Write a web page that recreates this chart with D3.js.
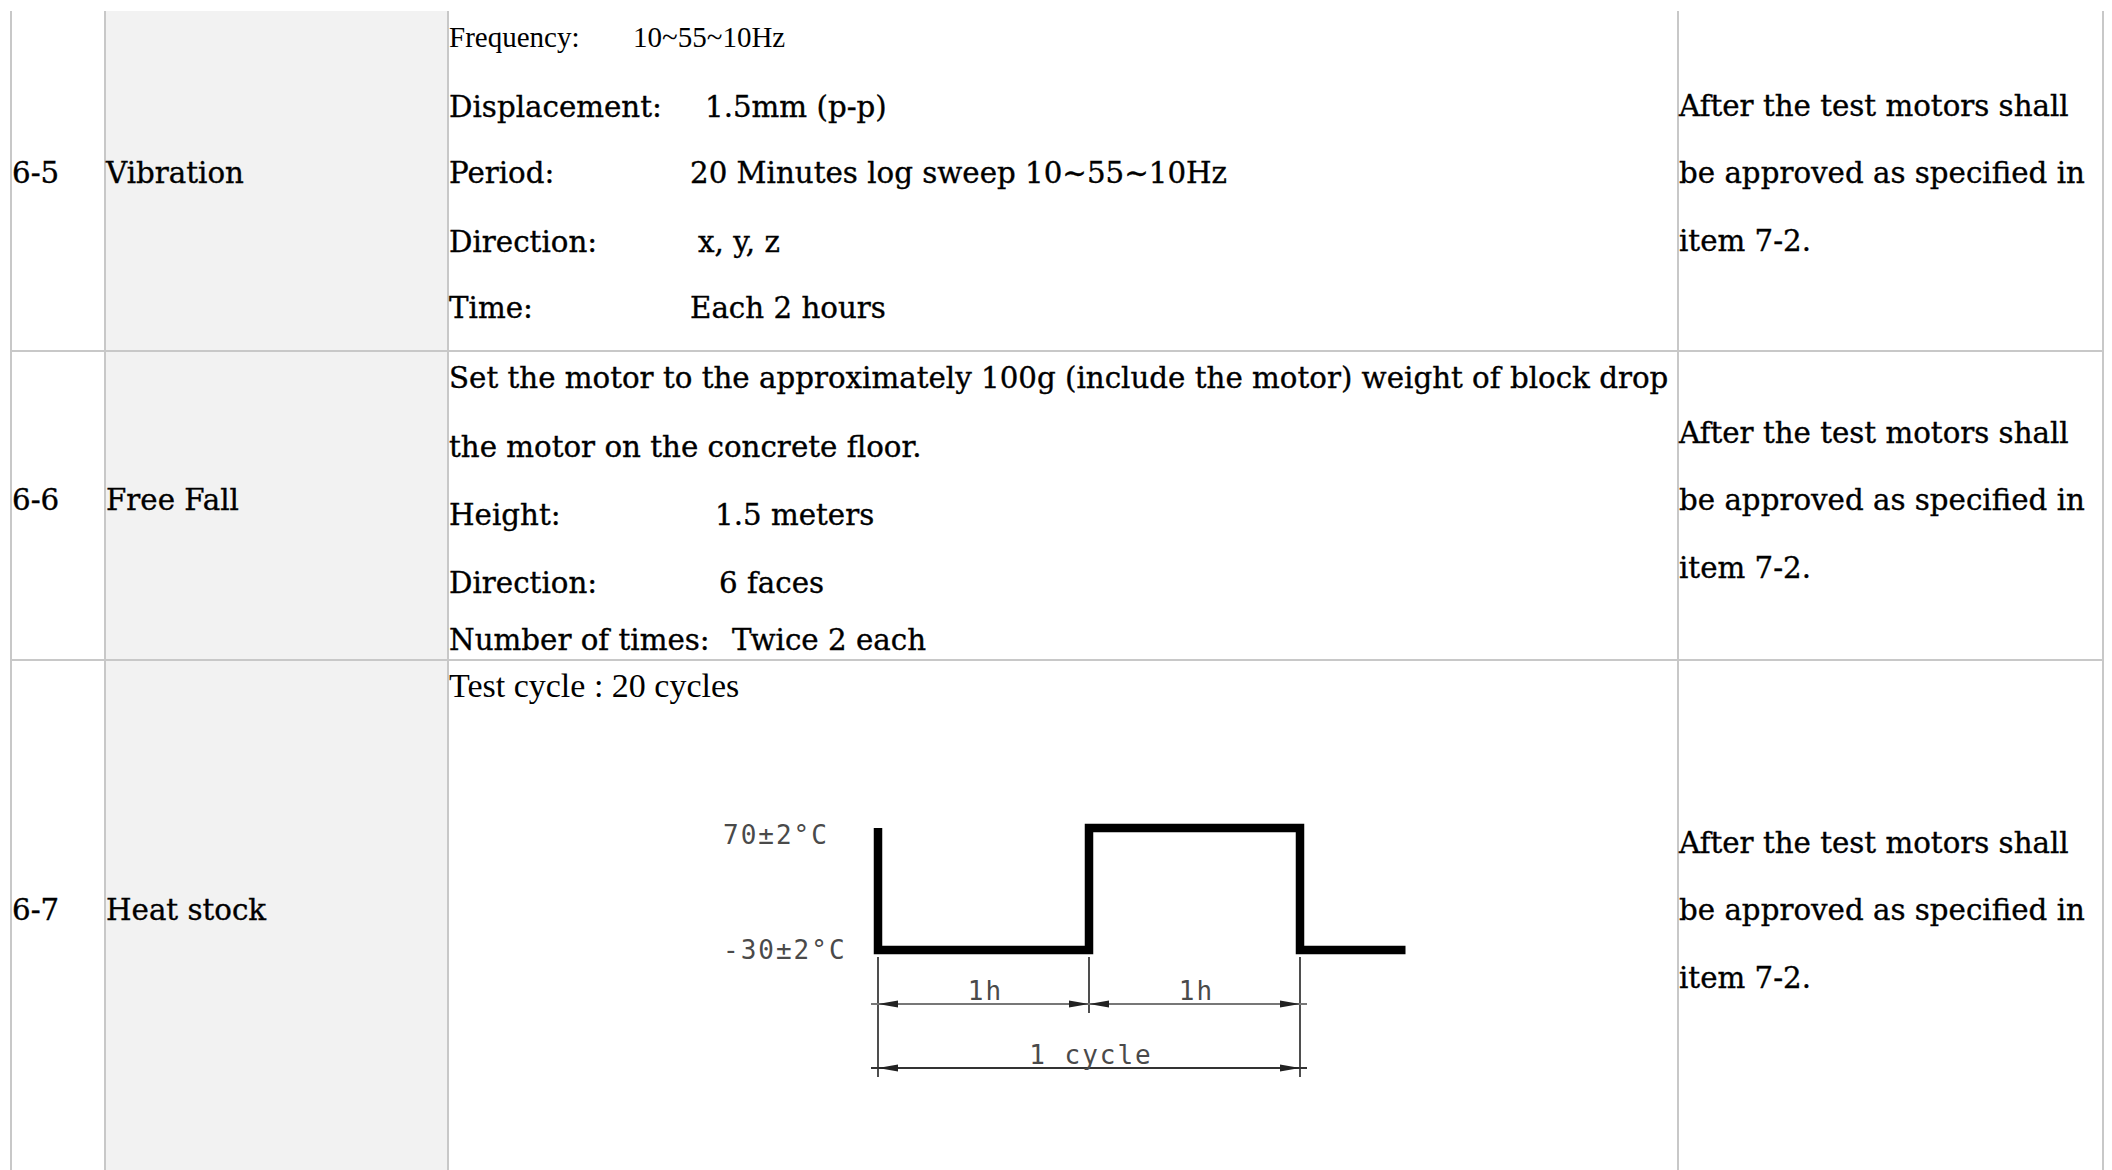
<!DOCTYPE html>
<html>
<head>
<meta charset="utf-8">
<script src="https://cdn.jsdelivr.net/npm/d3@7"></script>
<style>
  body { margin: 0; background: #fff; }
  svg { display: block; }
</style>
</head>
<body>
<script>
var W = 2112, H = 1170;

// table content
var itemNos = ["6-5", "6-6", "6-7"];
var itemNames = ["Vibration", "Free Fall", "Heat stock"];
var condLabels = [
  ["Frequency:", "Displacement:", "Period:", "Direction:", "Time:"],
  ["Set the motor to the approximately 100g (include the motor) weight of block drop",
   "the motor on the concrete floor.", "Height:", "Direction:", "Number of times:"],
  ["Test cycle : 20 cycles"]
];
var condValues = [
  ["10~55~10Hz", "1.5mm (p-p)", "20 Minutes log sweep 10~55~10Hz", "x, y, z", "Each 2 hours"],
  ["", "", "1.5 meters", "6 faces", "Twice 2 each"],
  [""]
];
var verdictLines = ["After the test motors shall", "be approved as specified in", "item 7-2."];

// heat shock cycle
var cycleHours = [0, 0, 1, 1, 2, 2, 2.5];
var cycleTemps = [70, -30, -30, 70, 70, -30, -30];
var levelTemps = [70, -30];
var levelLabels = ["70±2°C", "-30±2°C"];
var spanStart = [0, 1, 0];
var spanEnd = [1, 2, 2];
var spanLabels = ["1h", "1h", "1 cycle"];

// layout
var colX = [11, 105, 448, 1678, 2103];
var rowY = [11, 351, 660, H + 5];
var lineColor = "#c8c8c8";
var serif = "'DejaVu Serif', serif";
var times = "'Liberation Serif', 'Times New Roman', serif";
var mono = "'DejaVu Sans Mono', monospace";
var baseSize = 29.3;
var labelBase = [183, 510, 920];
var condBase = [[47, 117, 183, 252, 318], [388, 457, 525, 593, 650], [697]];
var valueX = [[633, 705, 690, 698, 690], [0, 0, 715, 719, 732], [0]];
var verdictPitch = 67.5;

var svg = d3.select("body").append("svg")
  .attr("width", W)
  .attr("height", H);

// shaded name column
svg.append("rect")
  .attr("x", colX[1]).attr("y", rowY[0])
  .attr("width", colX[2] - colX[1]).attr("height", H - rowY[0])
  .attr("fill", "#f2f2f2");

// grid
svg.selectAll("line.col")
  .data(colX)
  .enter().append("line")
  .attr("class", "col")
  .attr("x1", function(d) { return d; })
  .attr("x2", function(d) { return d; })
  .attr("y1", rowY[0])
  .attr("y2", H)
  .attr("stroke", lineColor)
  .attr("stroke-width", 2);

svg.selectAll("line.row")
  .data(rowY.slice(1, 3))
  .enter().append("line")
  .attr("class", "row")
  .attr("x1", colX[0])
  .attr("x2", colX[4])
  .attr("y1", function(d) { return d; })
  .attr("y2", function(d) { return d; })
  .attr("stroke", lineColor)
  .attr("stroke-width", 2);

// text is a touch heavier in the original print
var txt = svg.append("g")
  .attr("fill", "#000")
  .attr("stroke", "#000")
  .attr("stroke-width", 0.35);

itemNos.forEach(function(no, i) {
  txt.append("text").attr("x", colX[0] + 1).attr("y", labelBase[i])
    .attr("font-family", serif).attr("font-size", baseSize).text(no);
  txt.append("text").attr("x", colX[1] + 1).attr("y", labelBase[i])
    .attr("font-family", serif).attr("font-size", baseSize).text(itemNames[i]);

  condLabels[i].forEach(function(lab, j) {
    var plain = (i === 0 && j === 0) || i === 2;
    var fam = plain ? times : serif;
    var size = plain ? (i === 2 ? 34 : 29) : baseSize;
    var t = txt.append("text").attr("x", colX[2] + 1).attr("y", condBase[i][j])
      .attr("font-family", fam).attr("font-size", size).text(lab);
    if (plain) t.attr("stroke", "none");
    if (condValues[i][j]) {
      var v = txt.append("text").attr("x", valueX[i][j]).attr("y", condBase[i][j])
        .attr("font-family", fam).attr("font-size", size).text(condValues[i][j]);
      if (plain) v.attr("stroke", "none");
    }
  });

  verdictLines.forEach(function(v, k) {
    txt.append("text").attr("x", colX[3] + 1)
      .attr("y", labelBase[i] + (k - 1) * verdictPitch)
      .attr("font-family", serif).attr("font-size", baseSize).text(v);
  });
});

// ---------------- heat shock diagram ----------------
var x = d3.scaleLinear().domain([0, 1]).range([878, 1089]);
var y = d3.scaleLinear().domain([-30, 70]).range([950, 828]);

var wave = cycleHours.map(function(h, i) { return [h, cycleTemps[i]]; });
var g = svg.append("g");

g.append("path")
  .attr("d", d3.line().x(function(d) { return x(d[0]); }).y(function(d) { return y(d[1]); })(wave))
  .attr("fill", "none")
  .attr("stroke", "#000")
  .attr("stroke-width", 8.5)
  .attr("stroke-linejoin", "miter");

var labelDy = [16, 9];
g.selectAll("text.level")
  .data(levelTemps)
  .enter().append("text")
  .attr("class", "level")
  .attr("x", 723)
  .attr("y", function(d, i) { return y(d) + labelDy[i]; })
  .attr("font-family", mono)
  .attr("font-size", 26)
  .attr("letter-spacing", 2)
  .attr("fill", "#4a4a4a")
  .text(function(d, i) { return levelLabels[i]; });

// dimension lines
var lowY = y(-30);
var dimY = [1004, 1004, 1068];
var spans = spanLabels.map(function(l, i) {
  return { a: spanStart[i], b: spanEnd[i], label: l, y: dimY[i] };
});

// extension lines
var ext = [{ h: 0, to: 1077 }, { h: 1, to: 1013 }, { h: 2, to: 1077 }];
g.selectAll("line.ext")
  .data(ext)
  .enter().append("line")
  .attr("class", "ext")
  .attr("x1", function(d) { return x(d.h); })
  .attr("x2", function(d) { return x(d.h); })
  .attr("y1", lowY + 7)
  .attr("y2", function(d) { return d.to; })
  .attr("stroke", "#222")
  .attr("stroke-width", 1.6);

g.selectAll("line.dim")
  .data(spans)
  .enter().append("line")
  .attr("class", "dim")
  .attr("x1", function(d) { return x(d.a) - 7; })
  .attr("x2", function(d) { return x(d.b) + 7; })
  .attr("y1", function(d) { return d.y; })
  .attr("y2", function(d) { return d.y; })
  .attr("stroke", function(d) { return d.b - d.a > 1 ? "#333" : "#777"; })
  .attr("stroke-width", 2);

var heads = [];
spans.forEach(function(s) {
  heads.push({ tip: x(s.a), dir: 1, y: s.y });
  heads.push({ tip: x(s.b), dir: -1, y: s.y });
});
g.selectAll("path.head")
  .data(heads)
  .enter().append("path")
  .attr("class", "head")
  .attr("d", function(d) {
    var bx = d.tip + d.dir * 20;
    return "M" + d.tip + "," + d.y + "L" + bx + "," + (d.y - 3.5) + "L" + bx + "," + (d.y + 3.5) + "Z";
  })
  .attr("fill", "#222");

g.selectAll("text.dim")
  .data(spans)
  .enter().append("text")
  .attr("class", "dim")
  .attr("x", function(d) { return (x(d.a) + x(d.b)) / 2 + 2; })
  .attr("y", function(d) { return d.y - 4; })
  .attr("text-anchor", "middle")
  .attr("font-family", mono)
  .attr("font-size", 26)
  .attr("letter-spacing", 2)
  .attr("fill", "#4a4a4a")
  .text(function(d) { return d.label; });
</script>
</body>
</html>
